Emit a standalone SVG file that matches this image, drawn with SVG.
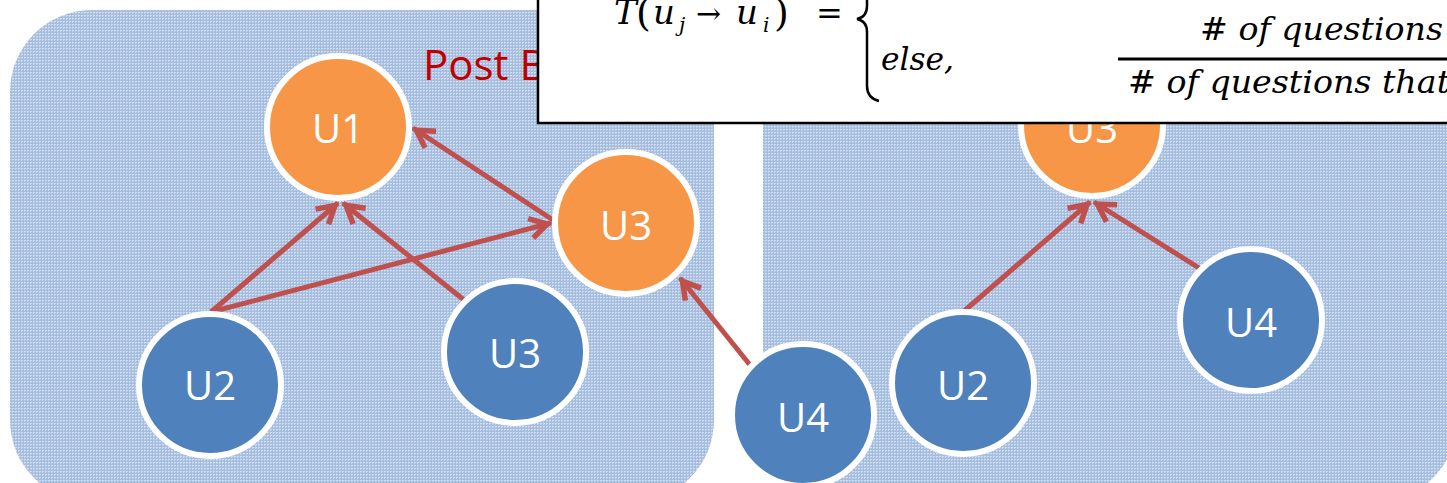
<svg xmlns="http://www.w3.org/2000/svg" width="1447" height="483" viewBox="0 0 1447 483">
<defs>
<pattern id="dots" x="0" y="0" width="3" height="3" patternUnits="userSpaceOnUse">
<rect width="3" height="3" fill="#A5BDDF"/>
<rect x="0" y="0" width="2" height="1" fill="#D3DFF0"/>
<rect x="0" y="1" width="1" height="1" fill="#C2D3EA"/>
</pattern>
<marker id="arr" markerUnits="userSpaceOnUse" viewBox="-22 -13 28 26" markerWidth="28" markerHeight="26" refX="4" refY="0" orient="auto">
<path d="M-17,-10 L0,0 L-17,10" fill="none" stroke="#C0504D" stroke-width="5.5"/>
</marker>
</defs>
<style>
.panel{fill:url(#dots);}
.orange{fill:#F79646;stroke:#FFFFFF;stroke-width:6;}
.blue{fill:#4F81BD;stroke:#FFFFFF;stroke-width:6;}
.lbl{font-family:"Open Sans","Liberation Sans",sans-serif;font-size:40px;fill:#FFFFFF;text-anchor:middle;}
.edge{stroke:#C0504D;stroke-width:5;fill:none;marker-end:url(#arr);}
.math{font-family:"DejaVu Serif","Liberation Serif",serif;font-style:italic;fill:#000000;}
.up{font-style:normal;}
</style>
<rect width="1447" height="483" fill="#FFFFFF"/>
<g id="panels">
<rect id="panel-left" class="panel" x="10" y="10" width="704" height="492" rx="82" ry="82"/>
<rect id="panel-right" class="panel" x="763" y="10" width="694" height="492" rx="82" ry="82"/>
</g>
<text id="post-label" x="423" y="80" font-family="Open Sans, Liberation Sans, sans-serif" font-size="42" fill="#C00000">Post B</text>
<g id="connectors">
<line class="edge" x1="211" y1="312" x2="338" y2="203"/>
<line class="edge" x1="464" y1="300" x2="343" y2="203"/>
<line class="edge" x1="211" y1="312" x2="551" y2="223"/>
<line class="edge" x1="553" y1="220" x2="413" y2="128"/>
<line class="edge" x1="750" y1="365" x2="680" y2="278"/>
<line class="edge" x1="963" y1="312" x2="1090" y2="202"/>
<line class="edge" x1="1199" y1="268" x2="1094" y2="202"/>
</g>
<g id="node-u1"><circle class="orange" cx="338" cy="127" r="71"/><text class="lbl" x="338" y="143">U1</text></g>
<g id="node-u3-orange-left"><circle class="orange" cx="626" cy="223" r="71"/><text class="lbl" x="626" y="240">U3</text></g>
<g id="node-u2-left"><circle class="blue" cx="210" cy="385" r="71"/><text class="lbl" x="210" y="400">U2</text></g>
<g id="node-u3-blue"><circle class="blue" cx="515" cy="352" r="71"/><text class="lbl" x="515" y="368">U3</text></g>
<g id="node-u4-left"><circle class="blue" cx="803" cy="415" r="71"/><text class="lbl" x="803" y="432">U4</text></g>
<g id="node-u3-orange-right"><circle class="orange" cx="1092" cy="125" r="71"/><text class="lbl" x="1092" y="143">U3</text></g>
<g id="node-u2-right"><circle class="blue" cx="963" cy="383" r="71"/><text class="lbl" x="963" y="400">U2</text></g>
<g id="node-u4-right"><circle class="blue" cx="1251" cy="320" r="71"/><text class="lbl" x="1251" y="337">U4</text></g>
<g id="formula-box">
<rect x="538" y="-10" width="930" height="133" fill="#FFFFFF" stroke="#000000" stroke-width="2.5"/>
<text class="math" y="24" font-size="34"><tspan x="614">T</tspan><tspan class="up" x="636" y="26" font-size="38">(</tspan><tspan x="653" y="24">u</tspan><tspan x="679" y="32" font-size="20">j</tspan><tspan class="up" x="696" y="24" font-size="30">→</tspan><tspan x="736" y="24">u</tspan><tspan x="763" y="32" font-size="20">i</tspan><tspan class="up" x="774" y="26" font-size="38">)</tspan><tspan class="up" x="816" y="24" font-size="32">=</tspan></text>
<path d="M880,-30 Q867,-26 867,-10 L867,6 Q867,17 857,19 Q867,21 867,32 L867,86 Q867,98 879,101" fill="none" stroke="#000000" stroke-width="2.5"/>
<text class="math" x="881" y="70" font-size="32" textLength="73" lengthAdjust="spacingAndGlyphs">else,</text>
<text class="math" x="1200" y="40" font-size="32" textLength="243" lengthAdjust="spacingAndGlyphs"># of questions</text>
<line x1="1118" y1="59" x2="1460" y2="59" stroke="#000000" stroke-width="3"/>
<text class="math" x="1128" y="93" font-size="32" textLength="322" lengthAdjust="spacingAndGlyphs"># of questions that</text>
</g>
</svg>
